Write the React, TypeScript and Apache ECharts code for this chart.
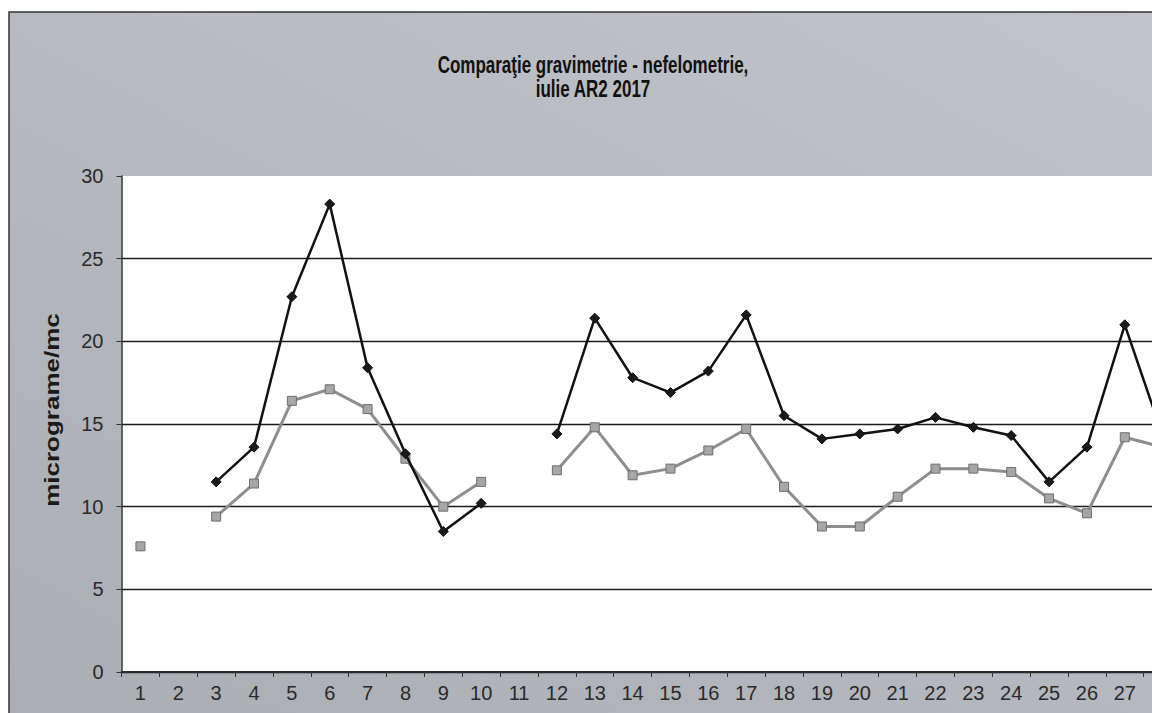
import React, { useEffect, useRef } from "react";
import * as echarts from "echarts";

const days = Array.from({ length: 31 }, (_, i) => String(i + 1));

// Gravimetrie (black, diamonds)
const gravimetrie: (number | null)[] = [
  null, null, 11.5, 13.6, 22.7, 28.3, 18.4, 13.2, 8.5, 10.2,
  null, 14.4, 21.4, 17.8, 16.9, 18.2, 21.6, 15.5, 14.1, 14.4,
  14.7, 15.4, 14.8, 14.3, 11.5, 13.6, 21.0, 14.3, null, null, null,
];

// Nefelometrie (grey, squares)
const nefelometrie: (number | null)[] = [
  7.6, null, 9.4, 11.4, 16.4, 17.1, 15.9, 12.9, 10.0, 11.5,
  null, 12.2, 14.8, 11.9, 12.3, 13.4, 14.7, 11.2, 8.8, 8.8,
  10.6, 12.3, 12.3, 12.1, 10.5, 9.6, 14.2, 13.6, null, null, null,
];

const yTicks = [0, 5, 10, 15, 20, 25, 30];

const titleText = "Comparaţie gravimetrie - nefelometrie,\niulie AR2 2017";
const yTitle = "micrograme/mc";

// Only the first 27 day labels are inside the visible picture
const VISIBLE_LABELS = 27;

const CHART_W = 1345;
const CHART_H = 713;
const GRID_LEFT = 121.5;
const GRID_W = 31 * 37.86;

export default function App() {
  const ref = useRef<HTMLDivElement>(null);

  useEffect(() => {
    if (!ref.current) return;
    const chart = echarts.init(ref.current, null, { renderer: "svg" });
    const font = '"Liberation Sans", Arial, sans-serif';
    chart.setOption({
      animation: false,
      backgroundColor: "#ffffff",
      textStyle: { fontFamily: font },
      graphic: [
        {
          type: "rect",
          z: -10,
          shape: { x: 9, y: 12, width: CHART_W, height: CHART_H },
          style: {
            fill: {
              type: "linear",
              x: 0,
              y: 1,
              x2: 1,
              y2: 0,
              colorStops: [
                { offset: 0, color: "#aaadb2" },
                { offset: 0.5, color: "#b7bac0" },
                { offset: 1, color: "#c2c5ca" },
              ],
            },
            stroke: "#333333",
            lineWidth: 1.5,
          },
          silent: true,
        },
        {
          type: "text",
          x: 593,
          y: 76,
          scaleY: 1.4,
          style: {
            text: titleText,
            font: `bold 17px ${font}`,
            textAlign: "center",
            textVerticalAlign: "middle",
            lineHeight: 17,
            fill: "#111111",
          },
        },
        {
          type: "text",
          x: 52,
          y: 410,
          rotation: Math.PI / 2,
          scaleX: 1.3,
          style: {
            text: yTitle,
            font: `bold 20px ${font}`,
            textAlign: "center",
            textVerticalAlign: "middle",
            fill: "#1a1a1a",
          },
        },
      ],
      grid: {
        left: GRID_LEFT,
        right: CHART_W - (GRID_LEFT + GRID_W),
        top: 176,
        bottom: CHART_H - 672,
        show: true,
        backgroundColor: "#ffffff",
        borderWidth: 0,
      },
      xAxis: {
        type: "category",
        data: days,
        boundaryGap: true,
        axisLine: { show: true, lineStyle: { color: "#2a2a2a", width: 2 } },
        axisTick: {
          show: true,
          inside: false,
          length: 5,
          interval: 0,
          alignWithLabel: false,
          lineStyle: { color: "#333333", width: 1 },
        },
        axisLabel: {
          interval: (index: number) => index < VISIBLE_LABELS,
          margin: 11,
          fontSize: 20,
          color: "#2a2a2a",
          fontFamily: font,
        },
        splitLine: { show: false },
      },
      yAxis: {
        type: "value",
        min: yTicks[0],
        max: yTicks[yTicks.length - 1],
        interval: 5,
        axisLine: { show: true, lineStyle: { color: "#333333", width: 1.5 } },
        axisTick: { show: true, length: 5, lineStyle: { color: "#333333" } },
        axisLabel: {
          margin: 18,
          fontSize: 20,
          color: "#2a2a2a",
          fontFamily: font,
        },
        splitLine: {
          show: true,
          lineStyle: {
            color: [
              "#1a1a1a",
              "#1a1a1a",
              "#1a1a1a",
              "#1a1a1a",
              "#1a1a1a",
              "#1a1a1a",
              "rgba(0,0,0,0)",
            ],
            width: 1.3,
          },
        },
      },
      series: [
        {
          name: "nefelometrie",
          type: "line",
          data: nefelometrie,
          symbol: "rect",
          symbolSize: 9,
          showSymbol: true,
          connectNulls: false,
          lineStyle: { color: "#8e8e8e", width: 3 },
          itemStyle: { color: "#a6a6a6", borderColor: "#6e6e6e", borderWidth: 1 },
          z: 2,
        },
        {
          name: "gravimetrie",
          type: "line",
          data: gravimetrie,
          symbol: "diamond",
          symbolSize: 10,
          showSymbol: true,
          connectNulls: false,
          lineStyle: { color: "#111111", width: 2.5 },
          itemStyle: { color: "#1a1a1a", borderColor: "#111111", borderWidth: 1 },
          z: 3,
        },
      ],
    });
    return () => chart.dispose();
  }, []);

  return (
    <div
      style={{
        position: "fixed",
        left: 0,
        top: 0,
        width: 1152,
        height: 713,
        overflow: "hidden",
        background: "#ffffff",
      }}
    >
      <div ref={ref} style={{ width: CHART_W, height: CHART_H }} />
    </div>
  );
}
